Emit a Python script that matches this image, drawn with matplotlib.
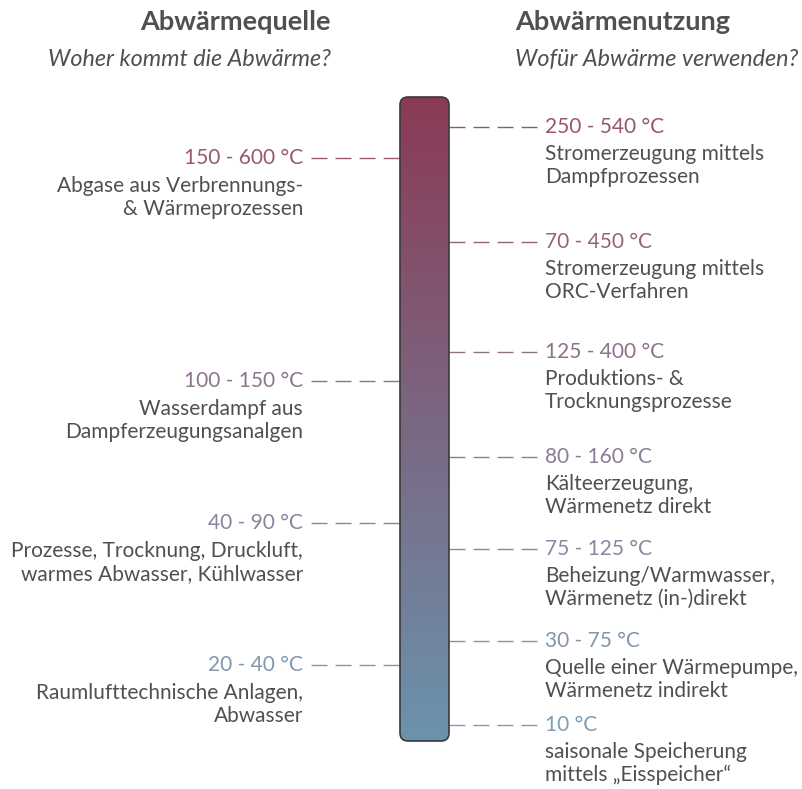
import numpy as np
import matplotlib.pyplot as plt
from matplotlib.patches import FancyBboxPatch
from matplotlib.colors import LinearSegmentedColormap

plt.rcParams['font.family'] = ['Lato', 'DejaVu Sans']

# source side (left)
src_temps = ["150 - 600 °C", "100 - 150 °C", "40 - 90 °C", "20 - 40 °C"]
src_texts = [
    ["Abgase aus Verbrennungs-", "& Wärmeprozessen"],
    ["Wasserdampf aus", "Dampferzeugungsanalgen"],
    ["Prozesse, Trocknung, Druckluft,", "warmes Abwasser, Kühlwasser"],
    ["Raumlufttechnische Anlagen,", "Abwasser"],
]
src_y = [158, 381, 523, 665]

# usage side (right)
use_temps = ["250 - 540 °C", "70 - 450 °C", "125 - 400 °C", "80 - 160 °C",
             "75 - 125 °C", "30 - 75 °C", "10 °C"]
use_texts = [
    ["Stromerzeugung mittels", "Dampfprozessen"],
    ["Stromerzeugung mittels", "ORC-Verfahren"],
    ["Produktions- &", "Trocknungsprozesse"],
    ["Kälteerzeugung,", "Wärmenetz direkt"],
    ["Beheizung/Warmwasser,", "Wärmenetz (in-)direkt"],
    ["Quelle einer Wärmepumpe,", "Wärmenetz indirekt"],
    ["saisonale Speicherung", "mittels \u201eEisspeicher\u201c"],
]
use_y = [127, 242, 352, 457, 549, 641, 725]

TOP_COL = "#8b3a56"
BOT_COL = "#6b93ad"
TEXT_COL = "#505050"
BAR_TOP, BAR_BOT = 97, 741
BAR_L, BAR_R = 400, 449

cmap = LinearSegmentedColormap.from_list("heat", [TOP_COL, BOT_COL])


def col_at(y, light=0.0):
    c = np.array(cmap((y - BAR_TOP) / (BAR_BOT - BAR_TOP)))
    c[:3] = c[:3] + (1 - c[:3]) * light
    return tuple(c)


fig = plt.figure(figsize=(8.03, 7.89), dpi=100)
ax = fig.add_axes([0, 0, 1, 1])
ax.set_xlim(0, 803)
ax.set_ylim(789, 0)
ax.axis('off')

# headers
ax.text(331, 22, "Abwärmequelle", ha='right', va='center', fontsize=19.5,
        fontweight='bold', color=TEXT_COL)
ax.text(331, 59, "Woher kommt die Abwärme?", ha='right', va='center',
        fontsize=16.8, style='italic', color=TEXT_COL)
ax.text(515, 22, "Abwärmenutzung", ha='left', va='center', fontsize=19.5,
        fontweight='bold', color=TEXT_COL)
ax.text(515, 59, "Wofür Abwärme verwenden?", ha='left', va='center',
        fontsize=16.8, style='italic', color=TEXT_COL)

# gradient bar
box = FancyBboxPatch((BAR_L, BAR_TOP), BAR_R - BAR_L, BAR_BOT - BAR_TOP,
                     boxstyle="round,pad=0,rounding_size=8",
                     facecolor='none', edgecolor='#3a3a3a', linewidth=1.2,
                     zorder=3)
ax.add_patch(box)
grad = np.linspace(0, 1, 256).reshape(-1, 1)
im = ax.imshow(grad, cmap=cmap, aspect='auto',
               extent=(BAR_L, BAR_R, BAR_BOT, BAR_TOP), zorder=2)
im.set_clip_path(box)

# ~16 px dash, ~8 px gap at 100 dpi
dash = (0, (11.5, 5.8))

for t, lines, y in zip(src_temps, src_texts, src_y):
    ax.plot([311, BAR_L], [y, y], color=col_at(y, 0.12), lw=1.0,
            linestyle=dash, zorder=1)
    ax.text(303, y, t, ha='right', va='center', fontsize=15,
            color=col_at(y, 0.12))
    for i, s in enumerate(lines):
        ax.text(303, y + 28 + 23 * i, s, ha='right', va='center',
                fontsize=15, color=TEXT_COL)

for t, lines, y in zip(use_temps, use_texts, use_y):
    ax.plot([BAR_R, 537], [y, y], color=col_at(y, 0.12), lw=1.0,
            linestyle=dash, zorder=1)
    ax.text(545, y, t, ha='left', va='center', fontsize=15,
            color=col_at(y, 0.12))
    for i, s in enumerate(lines):
        ax.text(545, y + 27 + 23 * i, s, ha='left', va='center',
                fontsize=15, color=TEXT_COL)

fig.savefig("out.png", dpi=100, facecolor='white')
